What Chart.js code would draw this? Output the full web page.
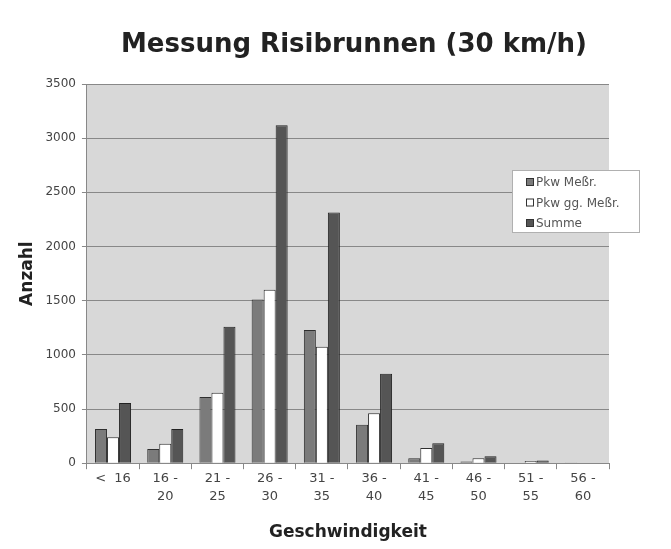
<!doctype html>
<html>
<head>
	<title>Messung Risibrunnen</title>
	<script src="https://cdn.jsdelivr.net/npm/chart.js@4/dist/chart.umd.min.js"></script>
	<style>
	body { margin: 0; background: #fff; }
	#wrap { width: 671px; height: 549px; }
	</style>
</head>
<body>
	<div id="wrap"><canvas id="speed-canvas" width="671" height="549"></canvas></div>
	<script>
	var chartTitle = 'Messung Risibrunnen (30 km/h)';
	var categories = [['<  16'], ['16 -', '20'], ['21 -', '25'], ['26 -', '30'], ['31 -', '35'],
		['36 -', '40'], ['41 -', '45'], ['46 -', '50'], ['51 -', '55'], ['56 -', '60']];
	var pkwMessR = [315, 130, 610, 1510, 1230, 355, 45, 15, 3, 1];
	var pkwGgMessR = [240, 180, 650, 1600, 1075, 460, 140, 45, 20, 3];
	var summe = [555, 315, 1260, 3120, 2315, 825, 185, 65, 25, 5];
	var yTicks = [0, 500, 1000, 1500, 2000, 2500, 3000, 3500];

	// legend box drawn inside plot, like the spreadsheet original
	var boxLegend = {
		id: 'boxLegend',
		afterDraw: function(chart) {
			var ctx = chart.ctx;
			var x = 512, y = 170, w = 127, h = 62;
			ctx.save();
			ctx.fillStyle = '#fff';
			ctx.strokeStyle = '#b0b0b0';
			ctx.lineWidth = 1;
			ctx.fillRect(x, y, w, h);
			ctx.strokeRect(x + 0.5, y + 0.5, w, h);
			ctx.font = '12px "DejaVu Sans"';
			ctx.textBaseline = 'middle';
			chart.data.datasets.forEach(function(ds, i) {
				var ly = y + 12 + i * 20.5;
				ctx.fillStyle = ds.backgroundColor;
				ctx.fillRect(x + 14, ly - 4, 8, 8);
				ctx.strokeStyle = '#333';
				ctx.strokeRect(x + 14.5, ly - 3.5, 7, 7);
				ctx.fillStyle = '#555';
				ctx.fillText(ds.label, x + 24, ly + 1);
			});
			ctx.restore();
		}
	};

	// plot background + title centred over the plot area
	var plotBg = {
		id: 'plotBg',
		beforeDraw: function(chart) {
			var a = chart.chartArea, ctx = chart.ctx;
			ctx.save();
			ctx.fillStyle = '#d8d8d8';
			ctx.fillRect(a.left, a.top, a.right - a.left, a.bottom - a.top);
			ctx.fillStyle = '#222';
			ctx.font = 'bold 26px "DejaVu Sans"';
			ctx.textAlign = 'center';
			ctx.textBaseline = 'middle';
			ctx.fillText(chartTitle, (a.left + a.right) / 2 + 6, 45);
			ctx.restore();
		}
	};

	var ctx = document.getElementById('speed-canvas').getContext('2d');
	new Chart(ctx, {
		type: 'bar',
		data: {
			labels: categories,
			datasets: [
				{ label: 'Pkw Meßr.', data: pkwMessR, backgroundColor: '#7b7b7b', borderColor: '#2e2e2e', borderWidth: 1 },
				{ label: 'Pkw gg. Meßr.', data: pkwGgMessR, backgroundColor: '#ffffff', borderColor: '#2e2e2e', borderWidth: 1 },
				{ label: 'Summe', data: summe, backgroundColor: '#555555', borderColor: '#222', borderWidth: 1 }
			]
		},
		options: {
			responsive: false,
			animation: false,
			layout: { padding: { left: 13, right: 62, top: 84, bottom: 10 } },
			datasets: { bar: { categoryPercentage: 0.69, barPercentage: 1.0 } },
			plugins: {
				legend: { display: false },
				tooltip: { enabled: false },
				title: { display: false }
			},
			scales: {
				x: {
					grid: { offset: true, drawOnChartArea: false, drawTicks: true, tickLength: 6, color: '#888' },
					border: { color: '#888' },
					ticks: { color: '#444', font: { family: '"DejaVu Sans"', size: 13, lineHeight: 1.4 }, maxRotation: 0, padding: 0 },
					title: {
						display: true, text: 'Geschwindigkeit', color: '#222',
						font: { family: '"DejaVu Sans"', size: 17, weight: 'bold' },
						padding: { top: 17, bottom: -4 }
					}
				},
				y: {
					min: 0, max: 3500,
					afterBuildTicks: function(axis) { axis.ticks = yTicks.map(function(v) { return { value: v }; }); },
					grid: { color: '#888', tickLength: 5 },
					border: { color: '#888' },
					ticks: {
						color: '#444', font: { family: '"DejaVu Sans"', size: 12 }, padding: 6,
						callback: function(v) { return String(v); }
					},
					title: {
						display: true, text: 'Anzahl', color: '#222',
						font: { family: '"DejaVu Sans"', size: 17, weight: 'bold' },
						padding: { bottom: 2 }
					}
				}
			}
		},
		plugins: [plotBg, boxLegend]
	});
	</script>
</body>
</html>
